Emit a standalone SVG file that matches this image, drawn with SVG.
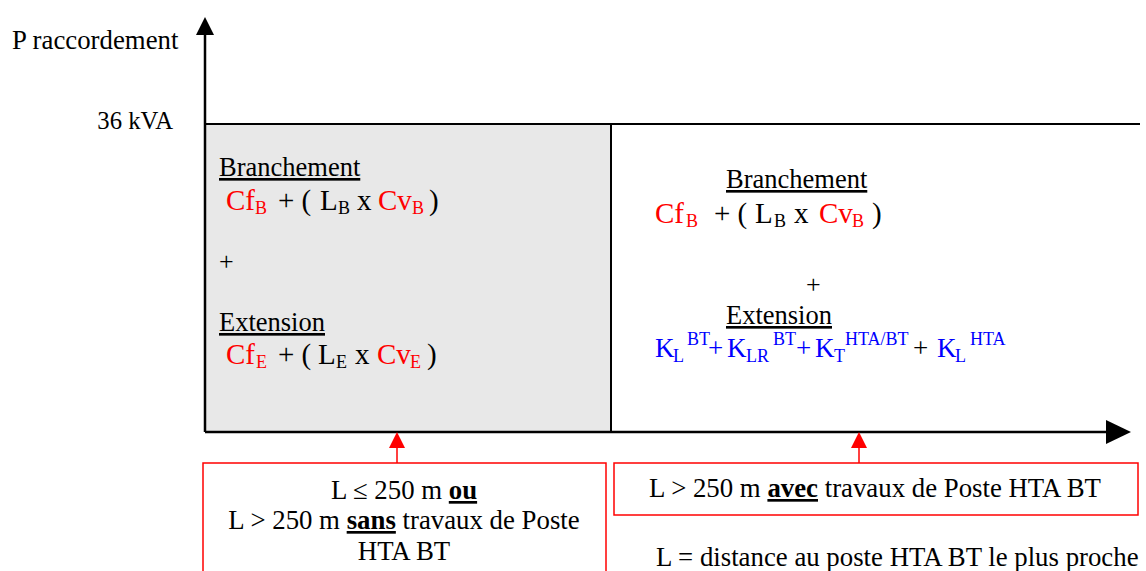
<svg xmlns="http://www.w3.org/2000/svg" width="1146" height="571" viewBox="0 0 1146 571">
<style>
text, tspan{font-family:'Liberation Serif','Times New Roman',serif}
.t{font-size:26.5px}
.f{font-size:29px}
.r{fill:#ff0000}
.b{fill:#0000ff}
.s{font-size:18px}
.u{text-decoration:underline}
.bold{font-weight:bold;text-decoration:underline}
.ax{stroke:#000;stroke-width:2.5;fill:none}
.rb{stroke:#ff0000;stroke-width:1.5;fill:#fff}
.rl{stroke:#ff0000;stroke-width:1.5}
</style>
<g id="zone-gauche">
<rect x="205" y="124" width="406" height="308" fill="#e8e8e8"/>
</g>
<g id="axes" class="ax">
<line x1="205" y1="432" x2="205" y2="32"/>
<line x1="205" y1="432" x2="1108" y2="432"/>
<line x1="205" y1="124" x2="1140" y2="124" stroke-width="2"/>
<line x1="611" y1="124" x2="611" y2="432" stroke-width="2"/>
</g>
<g id="fleches">
<polygon points="205,17 196,35 214,35" fill="#000"/>
<polygon points="1131,432 1106,420 1106,444" fill="#000"/>
<line class="rl" x1="397" y1="446" x2="397" y2="463"/>
<polygon points="397,432 389,448 405,448" fill="#ff0000"/>
<line class="rl" x1="859" y1="446" x2="859" y2="463"/>
<polygon points="859,432 851,448 867,448" fill="#ff0000"/>
</g>
<g id="labels-axes">
<text x="12" y="49" font-family="Liberation Serif, serif" font-size="26.8">P raccordement</text>
<text x="173" y="129" text-anchor="end" font-family="Liberation Serif, serif" font-size="24.7">36 kVA</text>
</g>
<g id="formule-gauche">
<text x="219" y="176" class="t u" font-family="Liberation Serif, serif">Branchement</text>
<text y="210" class="f" font-family="Liberation Serif, serif"><tspan class="r" x="226">Cf</tspan><tspan class="r s" x="255" y="214">B</tspan><tspan x="278" y="210">+ (</tspan><tspan x="320">L</tspan><tspan class="s" x="338" y="214">B</tspan><tspan x="357" y="210">x</tspan><tspan class="r" x="378">Cv</tspan><tspan class="r s" x="412" y="214">B</tspan><tspan x="429" y="210">)</tspan></text>
<text x="219" y="270" font-family="Liberation Serif, serif" font-size="26">+</text>
<text x="219" y="331" class="t u" font-family="Liberation Serif, serif">Extension</text>
<text y="364" class="f" font-family="Liberation Serif, serif"><tspan class="r" x="226">Cf</tspan><tspan class="r s" x="256" y="368">E</tspan><tspan x="278" y="364">+ (</tspan><tspan x="318">L</tspan><tspan class="s" x="336" y="368">E</tspan><tspan x="355" y="364">x</tspan><tspan class="r" x="377">Cv</tspan><tspan class="r s" x="410" y="368">E</tspan><tspan x="427" y="364">)</tspan></text>
</g>
<g id="formule-droite">
<text x="726" y="188" class="t u" font-family="Liberation Serif, serif">Branchement</text>
<text y="223" class="f" font-family="Liberation Serif, serif"><tspan class="r" x="655">Cf</tspan><tspan class="r s" x="686" y="227">B</tspan><tspan x="714" y="223">+ (</tspan><tspan x="755">L</tspan><tspan class="s" x="774" y="227">B</tspan><tspan x="794" y="223">x</tspan><tspan class="r" x="819">Cv</tspan><tspan class="r s" x="852" y="227">B</tspan><tspan x="872" y="223">)</tspan></text>
<text x="806" y="293" font-family="Liberation Serif, serif" font-size="26">+</text>
<text x="726" y="324" class="t u" font-family="Liberation Serif, serif">Extension</text>
<text y="357" class="b" font-family="Liberation Serif, serif" font-size="27"><tspan x="655">K</tspan><tspan class="s" x="673" y="362">L</tspan><tspan class="s" x="687" y="345">BT</tspan><tspan x="708" y="357">+</tspan><tspan x="727">K</tspan><tspan class="s" x="746" y="362">LR</tspan><tspan class="s" x="773" y="345">BT</tspan><tspan x="796" y="357">+</tspan><tspan x="815">K</tspan><tspan class="s" x="834" y="362">T</tspan><tspan class="s" x="845" y="345">HTA/BT</tspan><tspan x="913" y="357" fill="#000" style="fill:#000">+</tspan><tspan x="937">K</tspan><tspan class="s" x="955" y="362">L</tspan><tspan class="s" x="970" y="345">HTA</tspan></text>
</g>
<g id="condition-gauche">
<rect class="rb" x="203" y="463" width="403" height="120"/>
<text x="404" y="499" text-anchor="middle" font-size="26.8" font-family="Liberation Serif, serif">L ≤ 250 m <tspan class="bold">ou</tspan></text>
<text x="404" y="529" text-anchor="middle" font-size="26.8" font-family="Liberation Serif, serif">L &gt; 250 m <tspan class="bold">sans</tspan> travaux de Poste</text>
<text x="404" y="560" text-anchor="middle" font-size="26.8" font-family="Liberation Serif, serif">HTA BT</text>
</g>
<g id="condition-droite">
<rect class="rb" x="614" y="463" width="524" height="52"/>
<text x="875" y="497" text-anchor="middle" font-size="26.8" font-family="Liberation Serif, serif">L &gt; 250 m <tspan class="bold">avec</tspan> travaux de Poste HTA BT</text>
</g>
<g id="note">
<text x="656" y="566" font-size="26.8" font-family="Liberation Serif, serif">L = distance au poste HTA BT le plus proche</text>
</g>
</svg>
